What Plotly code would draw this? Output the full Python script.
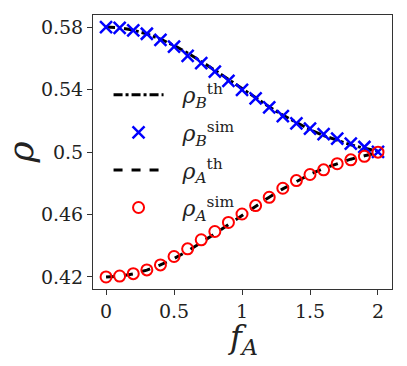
import plotly.graph_objects as go

# data
f_a = [0.0, 0.1, 0.2, 0.3, 0.4, 0.5, 0.6, 0.7, 0.8, 0.9, 1.0,
       1.1, 1.2, 1.3, 1.4, 1.5, 1.6, 1.7, 1.8, 1.9, 2.0]

rho_a_sim = [0.4200, 0.4206, 0.4221, 0.4245, 0.4277, 0.4331, 0.4380, 0.4438, 0.4491, 0.4549, 0.4603,
             0.4657, 0.4710, 0.4768, 0.4817, 0.4856, 0.4886, 0.4925, 0.4950, 0.4972, 0.4999]
rho_b_sim = [0.5800, 0.5794, 0.5778, 0.5757, 0.5718, 0.5675, 0.5615, 0.5569, 0.5515, 0.5455, 0.5397,
             0.5343, 0.5286, 0.5230, 0.5183, 0.5150, 0.5114, 0.5086, 0.5054, 0.5032, 0.5001]

rho_a_th = [0.4200, 0.4205, 0.4220, 0.4244, 0.4277, 0.4318, 0.4366, 0.4419, 0.4476, 0.4535, 0.4595,
            0.4654, 0.4711, 0.4764, 0.4813, 0.4857, 0.4895, 0.4927, 0.4954, 0.4976, 0.4995]
rho_b_th = [0.5800, 0.5795, 0.5780, 0.5756, 0.5723, 0.5682, 0.5634, 0.5581, 0.5524, 0.5465, 0.5405,
            0.5346, 0.5289, 0.5236, 0.5187, 0.5143, 0.5105, 0.5073, 0.5046, 0.5024, 0.5005]

x_ticks = [0, 0.5, 1, 1.5, 2]
x_labels = ["0", "0.5", "1", "1.5", "2"]
y_ticks = [0.42, 0.46, 0.50, 0.54, 0.58]
y_labels = ["0.42", "0.46", "0.5", "0.54", "0.58"]

font = "'DejaVu Serif', serif"
pad = "\u00a0\u00a0"  # gap between legend symbol and label

fig = go.Figure()

fig.add_trace(go.Scatter(
    x=f_a, y=rho_b_th, mode="lines", name=pad + "<i>ρ</i><sub><i>B</i></sub><sup>th</sup>",
    legendgroup="bth",
    line=dict(color="black", width=3, dash="dashdot")))
fig.add_trace(go.Scatter(
    x=f_a, y=rho_b_sim, mode="markers", name=pad + "<i>ρ</i><sub><i>B</i></sub><sup>sim</sup>",
    legendgroup="bsim",
    marker=dict(symbol="x-thin", size=12, line=dict(color="blue", width=2.5))))
fig.add_trace(go.Scatter(
    x=f_a, y=rho_a_th, mode="lines", name=pad + "<i>ρ</i><sub><i>A</i></sub><sup>th</sup>",
    legendgroup="ath",
    line=dict(color="black", width=3, dash="dash")))
fig.add_trace(go.Scatter(
    x=f_a, y=rho_a_sim, mode="markers", name=pad + "<i>ρ</i><sub><i>A</i></sub><sup>sim</sup>",
    legendgroup="asim",
    marker=dict(symbol="circle-open", size=11, color="red", line=dict(color="red", width=2))))

axis_style = dict(showline=True, linecolor="#333", linewidth=1, mirror=True,
                  ticks="outside", ticklen=5, tickcolor="#333", showgrid=False,
                  zeroline=False, automargin=False,
                  tickfont=dict(family=font, size=19, color="#222"))

fig.update_xaxes(range=[-0.096, 2.103], tickvals=x_ticks, ticktext=x_labels, **axis_style)
fig.update_yaxes(range=[0.4123, 0.5877], tickvals=y_ticks, ticktext=y_labels,
                 title=dict(text="<i>ρ</i>", font=dict(family=font, size=36, color="#222"),
                            standoff=0),
                 **axis_style)

# x title as an annotation so it can sit closer to the tick labels
fig.add_annotation(text="<i>f</i><sub><i>A</i></sub>", xref="paper", yref="paper",
                   x=0.5, y=-0.1, xanchor="center", yanchor="top", showarrow=False,
                   font=dict(family=font, size=32, color="#222"))

fig.update_layout(
    width=407, height=366,
    margin=dict(l=93, r=15, t=15, b=77),
    plot_bgcolor="white", paper_bgcolor="white",
    showlegend=True,
    legend=dict(x=0.052, y=0.785, xanchor="left", yanchor="top", tracegroupgap=6,
                itemwidth=50,
                bgcolor="rgba(0,0,0,0)", font=dict(family=font, size=22, color="#222")),
)

# drop the default body margin so the figure sits at the window's corner
fig.write_html("out.html", config={"displayModeBar": False},
               post_script="document.body.style.margin = '0';")
